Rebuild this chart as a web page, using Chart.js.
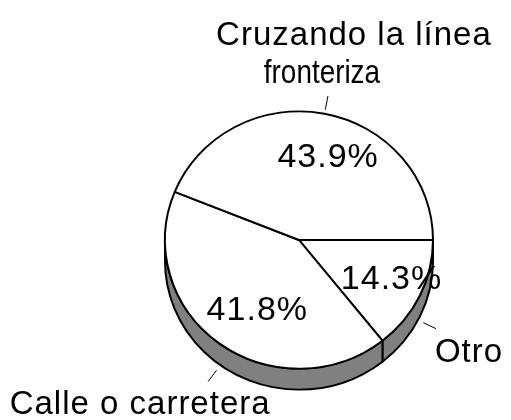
<!DOCTYPE html>
<html lang="es">
<head>
<meta charset="utf-8">
<title>Pie 3D</title>
<script src="https://cdn.jsdelivr.net/npm/chart.js@4.4.0/dist/chart.umd.min.js"></script>
<style>
  * { margin: 0; padding: 0; }
  body { background: #fff; width: 511px; height: 420px; overflow: hidden; }
  #chart { display: block; }
</style>
</head>
<body>
<canvas id="chart" width="511" height="420"></canvas>
<script>
// data, in drawing order (clockwise from 3 o'clock)
const categories = ["Otro", "Calle o carretera", "Cruzando la línea fronteriza"];
const labelLines = [["Otro"], ["Calle o carretera"], ["Cruzando la línea", "fronteriza"]];
const values = [14.3, 41.8, 43.9];
const valueLabels = ["14.3%", "41.8%", "43.9%"];

// look of the fake 3d pie
const tilt = 0.96;   // vertical squash of the top face
const depth = 21;    // height of the side wall in px
const sideColor = "#808080";

// where the % text sits inside each slice (fraction of radius + small nudge)
const valueRadius = [0.75, 0.62, 0.67];
const valueNudge = [[2, 7], [8, 16], [12, 12]];
// leader line shift and outside label offsets from the leader end
// [dx, dy, align, horizontal squeeze]
const leaderShift = [[0, 4], [0, 3], [0, 0]];
const labelOffsets = [
  [[-1, 33, "left", 1]],
  [[-68, 32, "center", 1]],
  [[26, -51, "center", 1], [-6, -13, "center", 0.82]]
];

const geom = (chart) => {
  const arc = chart.getDatasetMeta(0).data[0];
  return { cx: arc.x, cy: arc.y, r: arc.outerRadius };
};

const pie3d = {
  id: "pie3d",
  beforeDatasetsDraw(chart) {
    const ctx = chart.ctx;
    const { cx, cy, r } = geom(chart);
    ctx.save();
    ctx.translate(cx, cy);
    ctx.scale(1, tilt);
    ctx.translate(-cx, -cy);
    const d = depth / tilt;
    const TAU = Math.PI * 2;
    chart.getDatasetMeta(0).data.forEach((arc) => {
      const a = ((arc.startAngle % TAU) + TAU) % TAU;
      const b = a + (arc.endAngle - arc.startAngle);
      const s = Math.max(a, 0), e = Math.min(b, Math.PI);
      if (e <= s) return;
      ctx.beginPath();
      ctx.arc(cx, cy, r, s, e);
      ctx.arc(cx, cy + d, r, e, s, true);
      ctx.closePath();
      ctx.fillStyle = sideColor;
      ctx.fill();
      ctx.lineWidth = 2;
      ctx.strokeStyle = "#000";
      ctx.stroke();
    });
  },
  afterDatasetsDraw(chart) {
    chart.ctx.restore();
  }
};

const pieLabels = {
  id: "pieLabels",
  afterDraw(chart) {
    const ctx = chart.ctx;
    const { cx, cy, r } = geom(chart);
    const ry = r * tilt;
    ctx.save();
    ctx.fillStyle = "#000";
    ctx.strokeStyle = "#000";
    chart.getDatasetMeta(0).data.forEach((arc, i) => {
      const mid = (arc.startAngle + arc.endAngle) / 2;
      const c = Math.cos(mid), s = Math.sin(mid);

      // percentage inside the slice
      ctx.font = "34px 'Liberation Sans', Arial, sans-serif";
      ctx.letterSpacing = "1px";
      ctx.textAlign = "center";
      ctx.textBaseline = "alphabetic";
      const vx = cx + r * valueRadius[i] * c + valueNudge[i][0];
      const vy = cy + ry * valueRadius[i] * s + valueNudge[i][1];
      ctx.fillText(valueLabels[i], vx, vy);

      // leader line
      const gap = 4, len = 14;
      const ex = cx + r * c + leaderShift[i][0];
      const ey = cy + ry * s + (s > 0 ? depth : 0) + leaderShift[i][1];
      const x0 = ex + gap * c, y0 = ey + gap * s;
      const x1 = x0 + len * c, y1 = y0 + len * s;
      ctx.lineWidth = 1;
      ctx.beginPath();
      ctx.moveTo(x0, y0);
      ctx.lineTo(x1, y1);
      ctx.stroke();

      // category label
      labelLines[i].forEach((line, j) => {
        const [dx, dy, align, squeeze] = labelOffsets[i][j];
        ctx.save();
        ctx.textAlign = align;
        ctx.font = (squeeze < 1 ? "34px" : "33px") + " 'Liberation Sans', Arial, sans-serif";
        ctx.letterSpacing = squeeze < 1 ? "0px" : "1px";
        ctx.translate(x1 + dx, y1 + dy);
        ctx.scale(squeeze, 1);
        ctx.fillText(line, 0, 0);
        ctx.restore();
      });
    });
    ctx.restore();
  }
};

new Chart(document.getElementById("chart"), {
  type: "pie",
  data: {
    labels: categories,
    datasets: [{
      data: values,
      backgroundColor: "#ffffff",
      borderColor: "#000000",
      borderWidth: 2
    }]
  },
  options: {
    responsive: false,
    animation: false,
    rotation: 90,
    layout: { padding: { left: 164, right: 77, top: 105, bottom: 45 } },
    plugins: {
      legend: { display: false },
      tooltip: { enabled: false }
    }
  },
  plugins: [pie3d, pieLabels]
});
</script>
</body>
</html>
